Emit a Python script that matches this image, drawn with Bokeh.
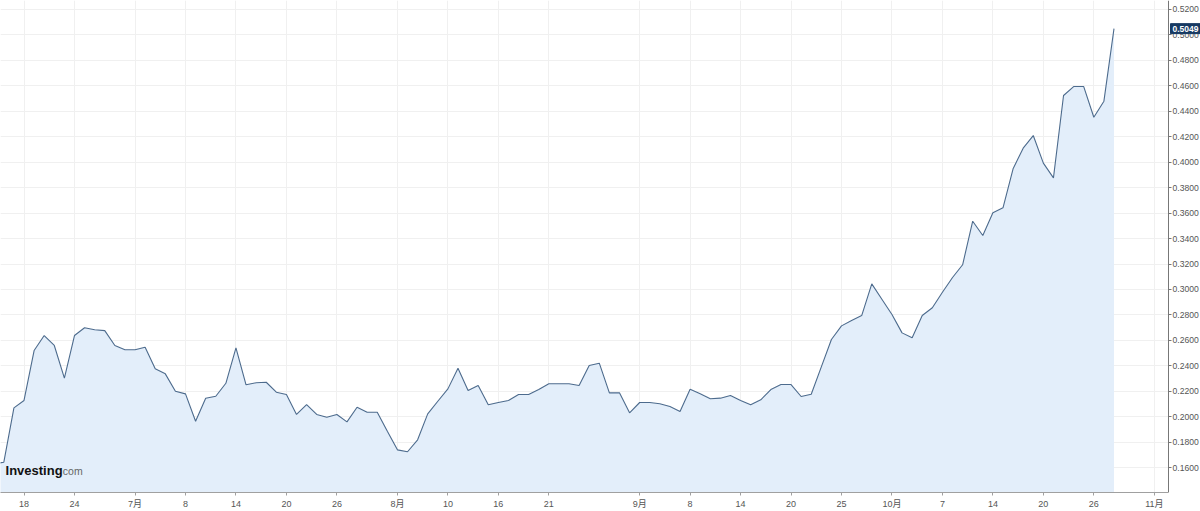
from bokeh.plotting import figure
from bokeh.models import Range1d, FixedTicker, NumeralTickFormatter, Label, BoxAnnotation
from bokeh.embed import file_html
from bokeh.resources import INLINE

# ---- data ----
day_index = list(range(-1, 111))
price = [
    0.1630, 0.1643, 0.2070, 0.2128, 0.2520, 0.2638, 0.2560, 0.2303, 0.2638, 0.2699,
    0.2683, 0.2677, 0.2560, 0.2526, 0.2526, 0.2546, 0.2377, 0.2337, 0.2201, 0.2180,
    0.1965, 0.2146, 0.2161, 0.2263, 0.2541, 0.2251, 0.2267, 0.2271, 0.2193, 0.2175,
    0.2018, 0.2096, 0.2018, 0.1996, 0.2018, 0.1960, 0.2075, 0.2036, 0.2036, 0.1886,
    0.1740, 0.1725, 0.1819, 0.2023, 0.2122, 0.2219, 0.2381, 0.2206, 0.2245, 0.2094,
    0.2112, 0.2128, 0.2175, 0.2175, 0.2214, 0.2259, 0.2259, 0.2259, 0.2245, 0.2403,
    0.2421, 0.2188, 0.2188, 0.2031, 0.2112, 0.2112, 0.2102, 0.2080, 0.2041, 0.2216,
    0.2180, 0.2141, 0.2146, 0.2167, 0.2128, 0.2094, 0.2133, 0.2214, 0.2253, 0.2253,
    0.2159, 0.2177, 0.2392, 0.2607, 0.2714, 0.2756, 0.2795, 0.3044, 0.2923, 0.2803,
    0.2659, 0.2620, 0.2795, 0.2856, 0.2978, 0.3094, 0.3194, 0.3536, 0.3424, 0.3602,
    0.3641, 0.3948, 0.4110, 0.4209, 0.3992, 0.3877, 0.4524, 0.4594, 0.4594, 0.4353,
    0.4479, 0.5049,
]
tick_index = [2, 7, 13, 18, 23, 28, 33, 39, 44, 49, 54, 63, 68, 73, 78, 83, 88, 93, 98, 103, 108, 114]
tick_labels = ["18", "24", "7月", "8", "14", "20", "26", "8月", "10", "16", "21",
               "9月", "8", "14", "20", "25", "10月", "7", "14", "20", "26", "11月"]
y_ticks = [0.16, 0.18, 0.20, 0.22, 0.24, 0.26, 0.28, 0.30, 0.32, 0.34,
           0.36, 0.38, 0.40, 0.42, 0.44, 0.46, 0.48, 0.50, 0.52]

X0, XAXIS = -0.33, 115.4           # visible plotting area (left edge .. price axis)
XEND = X0 + (XAXIS - X0) * 1200.0 / 1168.0  # frame extends under the price-axis labels
Y0, Y1 = 0.1405, 0.527

FONT = "Arial, 'Liberation Sans', 'Noto Sans CJK JP', sans-serif"

p = figure(width=1200, height=511, output_backend="svg", toolbar_location=None,
           x_range=Range1d(X0, XEND), y_range=Range1d(Y0, Y1),
           y_axis_location="right",
           min_border_left=0, min_border_top=0, min_border_right=0, min_border_bottom=19)
p.outline_line_color = None
p.background_fill_color = "white"
p.border_fill_color = "white"

# white strip behind the price-axis labels (hides grid lines there)
p.add_layout(BoxAnnotation(left=XAXIS, fill_color="white", fill_alpha=1.0,
                           line_color=None, level="underlay"))

# area + line
p.varea(x=day_index, y1=[Y0 - 0.05] * len(day_index), y2=price,
        fill_color="#e3eefa", fill_alpha=1.0)
p.line(x=day_index, y=price, line_color="#4d6b8d", line_width=1.1)

# axes
xa = p.xaxis[0]
xa.ticker = FixedTicker(ticks=tick_index)
xa.major_label_overrides = {t: l for t, l in zip(tick_index, tick_labels)}
xa.bounds = (X0, XAXIS)
xa.axis_line_color = "#a0a0a0"
xa.major_tick_line_color = "#a0a0a0"
xa.major_tick_in = 0
xa.major_tick_out = 3
xa.minor_tick_line_color = None
xa.major_label_text_font = FONT
xa.major_label_text_font_size = "9px"
xa.major_label_text_color = "#555555"
xa.major_label_standoff = 3

ya = p.yaxis[0]
ya.fixed_location = XAXIS
ya.ticker = FixedTicker(ticks=y_ticks)
ya.formatter = NumeralTickFormatter(format="0.0000")
ya.axis_line_color = "#777777"
ya.major_tick_line_color = "#777777"
ya.major_tick_in = 0
ya.major_tick_out = 3
ya.minor_tick_line_color = None
ya.major_label_text_font = FONT
ya.major_label_text_font_size = "8.6px"
ya.major_label_text_color = "#555555"
ya.major_label_standoff = 1

p.xgrid.ticker = FixedTicker(ticks=tick_index)
p.xgrid.grid_line_color = "#f0f0f0"
p.ygrid.ticker = FixedTicker(ticks=y_ticks)
p.ygrid.grid_line_color = "#f0f0f0"

# last value marker on the price axis
p.add_layout(Label(x=XAXIS, y=price[-1], x_offset=2,
                   text="%.4f" % price[-1],
                   text_font=FONT, text_font_size="8.5px", text_color="white",
                   text_font_style="bold", text_baseline="middle", text_align="left",
                   background_fill_color="#173a63", border_line_color="#173a63",
                   padding=2))

# logo
p.add_layout(Label(x=0.17, y=0.1578, text="Investing", text_font="'Liberation Sans'",
                   text_font_size="13px", text_font_style="bold", text_color="#111111",
                   text_baseline="middle", text_align="left"))
p.add_layout(Label(x=5.85, y=0.1573, text="com", text_font="'Liberation Sans'",
                   text_font_size="10.5px", text_color="#666666",
                   text_baseline="middle", text_align="left"))

open("out.html", "w").write(file_html(p, INLINE))
